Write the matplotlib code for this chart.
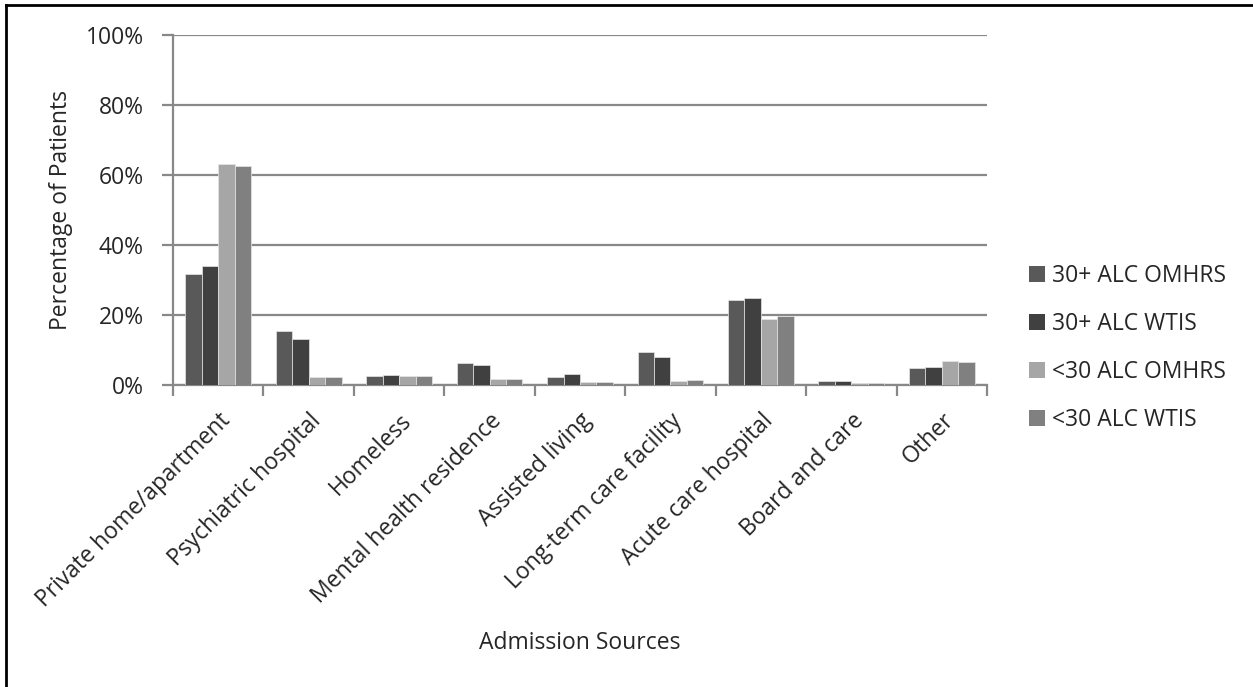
import matplotlib
matplotlib.use("Agg")
import matplotlib.pyplot as plt
import numpy as np
from matplotlib.lines import Line2D

plt.rcParams['font.family'] = ['Open Sans', 'DejaVu Sans']

categories = [
    "Private home/apartment", "Psychiatric hospital", "Homeless",
    "Mental health residence", "Assisted living", "Long-term care facility",
    "Acute care hospital", "Board and care", "Other",
]
series_names = ["30+ ALC OMHRS", "30+ ALC WTIS", "<30 ALC OMHRS", "<30 ALC WTIS"]
alc30_omhrs = [31.8, 15.3, 2.7, 6.2, 2.4, 9.5, 24.3, 1.1, 5.0]
alc30_wtis = [34.1, 13.2, 2.9, 5.6, 3.1, 8.0, 25.0, 1.1, 5.2]
lt30_omhrs = [63.2, 2.3, 2.6, 1.7, 0.9, 1.1, 19.0, 0.5, 6.8]
lt30_wtis = [62.6, 2.4, 2.6, 1.8, 0.9, 1.3, 19.6, 0.5, 6.5]
y_ticks = [0, 20, 40, 60, 80, 100]

series = [alc30_omhrs, alc30_wtis, lt30_omhrs, lt30_wtis]
colors = ["#595959", "#404040", "#a6a6a6", "#808080"]
text_color = "#262626"
grid_color = "#888888"
fs = 16.5

W, H = 1253, 687
fig = plt.figure(figsize=(W / 100, H / 100), dpi=100)
ax = fig.add_axes([173 / W, 1 - 385 / H, (987 - 173) / W, (385 - 35) / H])

x = np.arange(len(categories))
bw = 0.182
for i, (vals, col, name) in enumerate(zip(series, colors, series_names)):
    ax.bar(x + (i - 1.5) * bw, vals, width=bw, color=col, edgecolor="#e6e6e6",
           linewidth=0.5, label=name, zorder=3)

ax.set_xlim(-0.5, len(categories) - 0.5)
ax.set_ylim(0, 100)
ax.set_yticks(y_ticks)
ax.set_yticklabels([f"{v}%" for v in y_ticks])
ax.yaxis.grid(True, color=grid_color, linewidth=1.6, zorder=0)
ax.set_axisbelow(True)

for s in ["top", "right"]:
    ax.spines[s].set_visible(False)
for s in ["left", "bottom"]:
    ax.spines[s].set_color(grid_color)
    ax.spines[s].set_linewidth(1.6)

# category ticks sit on group boundaries
ax.set_xticks(np.arange(-0.5, len(categories), 1.0), minor=False)
ax.set_xticklabels([])
ax.tick_params(axis="x", which="major", length=8, width=1.6, color=grid_color)
ax.set_xticks(x, minor=True)
ax.set_xticklabels(categories, minor=True, rotation=45, ha="right",
                   rotation_mode="anchor", fontsize=fs, color=text_color)
ax.tick_params(axis="x", which="minor", length=0, pad=17)
ax.tick_params(axis="y", length=8, width=1.6, color=grid_color,
               labelsize=fs, labelcolor=text_color, pad=13)

ax.set_ylabel("Percentage of Patients", fontsize=fs, color=text_color)
ax.yaxis.set_label_coords(73 / W, 1 - 210 / H, transform=fig.transFigure)
fig.text(580 / W, 1 - 643 / H, "Admission Sources", fontsize=fs,
         color=text_color, ha="center", va="center")

leg = ax.legend(loc="center left", bbox_to_anchor=(1020 / W, 1 - 348 / H),
                bbox_transform=fig.transFigure, frameon=False, fontsize=fs,
                handlelength=0.7, handleheight=0.7, handletextpad=0.3,
                labelspacing=1.05, borderaxespad=0)
for t in leg.get_texts():
    t.set_color(text_color)
for h in leg.legend_handles:
    h.set_edgecolor("none")

# frame lines along the top and left edge of the figure
fig.add_artist(Line2D([6 / W, 1.0], [1 - 5 / H, 1 - 5 / H], color="black",
                      linewidth=2, transform=fig.transFigure))
fig.add_artist(Line2D([6 / W, 6 / W], [1 - 5 / H, 0.0], color="black",
                      linewidth=2, transform=fig.transFigure))

fig.savefig("out.png", dpi=100)
